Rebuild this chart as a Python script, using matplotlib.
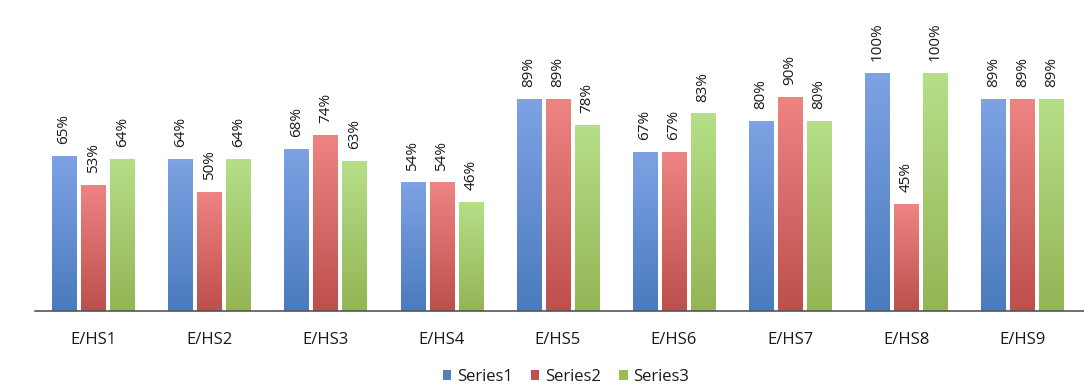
import numpy as np
import matplotlib
matplotlib.use("Agg")
import matplotlib.pyplot as plt
from matplotlib.colors import LinearSegmentedColormap
from matplotlib.patches import Patch

categories = ["E/HS1", "E/HS2", "E/HS3", "E/HS4", "E/HS5", "E/HS6", "E/HS7", "E/HS8", "E/HS9"]
series_names = ["Series1", "Series2", "Series3"]
series1 = [65, 64, 68, 54, 89, 67, 80, 100, 89]
series2 = [53, 50, 74, 54, 89, 67, 90, 45, 89]
series3 = [64, 64, 63, 46, 78, 83, 80, 100, 89]

# (top colour, bottom colour) of the vertical gradient for each series
gradients = [("#7ea2e4", "#4a7bbd"), ("#ee8583", "#bd4f4c"), ("#b5df88", "#94b555")]
legend_colors = ["#4f81bd", "#c0504d", "#9bbb59"]

plt.rcParams["font.family"] = ["Open Sans", "DejaVu Sans"]

fig = plt.figure(figsize=(10.84, 3.92), dpi=100)
ax = fig.add_axes([35 / 1084, 1 - 311 / 392, 1 - 35 / 1084, 311 / 392])

x = np.arange(len(categories))
width = 0.207
step = 0.25
grad = np.linspace(0, 1, 256).reshape(-1, 1)

for i, (vals, (top, bot)) in enumerate(zip([series1, series2, series3], gradients)):
    cmap = LinearSegmentedColormap.from_list(f"g{i}", [bot, top])
    pos = x + (i - 1) * step
    bars = ax.bar(pos, vals, width, color="none", edgecolor="none", zorder=2)
    for b, v in zip(bars, vals):
        x0, y0 = b.get_x(), b.get_y()
        im = ax.imshow(grad, cmap=cmap, origin="lower", aspect="auto",
                       extent=[x0, x0 + b.get_width(), y0, y0 + b.get_height()],
                       zorder=2, interpolation="bicubic")
        im.set_clip_path(b)
        ax.text(b.get_x() + b.get_width() / 2, v + 5, f"{v}%", rotation=90,
                ha="center", va="bottom", fontsize=11, color="#1a1a1a")

ax.set_xlim(-0.5, 8.53)
ax.set_ylim(0, 311 / 238 * 100)
ax.set_xticks(x)
ax.set_xticklabels(categories, fontsize=12, color="#1a1a1a")
ax.tick_params(axis="x", length=0, pad=15)
ax.set_yticks([])
for s in ["top", "right", "left"]:
    ax.spines[s].set_visible(False)
ax.spines["bottom"].set_color("#555555")
ax.spines["bottom"].set_linewidth(1.2)

handles = [Patch(facecolor=c, edgecolor="none") for c in legend_colors]
fig.legend(handles, series_names, loc="center", bbox_to_anchor=(566 / 1084, 1 - 377 / 392),
           ncol=3, frameon=False, fontsize=12, handlelength=0.5, handleheight=0.5,
           handletextpad=0.35, columnspacing=1.1, labelcolor="#1a1a1a",
           borderpad=0, borderaxespad=0)

fig.savefig("out.png", dpi=100)
